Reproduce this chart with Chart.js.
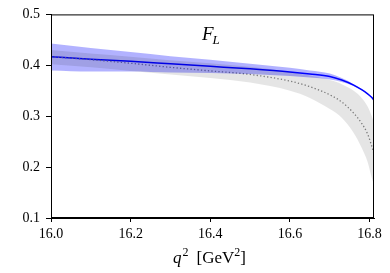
<!DOCTYPE html>
<html>
<head>
<meta charset="utf-8">
<script src="https://cdn.jsdelivr.net/npm/chart.js@4"></script>
<style>
  html, body { margin: 0; padding: 0; background: #fff; }
  #wrap { width: 390px; height: 273px; }
</style>
</head>
<body>
<div id="wrap"><canvas id="fl"></canvas></div>
<script>
// q^2 grid (GeV^2)
const q2 = [16.0, 16.1, 16.2, 16.3, 16.4, 16.5, 16.6, 16.65, 16.7, 16.73, 16.76, 16.78, 16.795, 16.805, 16.811];

// blue prediction: central curve and band
const blueMid = [0.417, 0.412, 0.408, 0.403, 0.398, 0.393, 0.387, 0.383, 0.378, 0.371, 0.361, 0.352, 0.344, 0.337, 0.331];
const blueHi  = [0.443, 0.434, 0.426, 0.418, 0.411, 0.403, 0.395, 0.390, 0.384, 0.375, 0.363, 0.353, 0.344, 0.337, 0.331];
const blueLo  = [0.390, 0.388, 0.388, 0.386, 0.385, 0.383, 0.379, 0.376, 0.372, 0.367, 0.359, 0.351, 0.344, 0.337, 0.331];

// gray prediction: dotted central curve and band
const grayMid = [0.417, 0.411, 0.404, 0.396, 0.389, 0.382, 0.369, 0.358, 0.342, 0.328, 0.306, 0.286, 0.265, 0.242, 0.226];
const grayHi  = [0.430, 0.423, 0.417, 0.410, 0.404, 0.397, 0.387, 0.380, 0.371, 0.363, 0.350, 0.336, 0.319, 0.301, 0.288];
const grayLo  = [0.402, 0.396, 0.389, 0.382, 0.375, 0.366, 0.350, 0.336, 0.314, 0.297, 0.267, 0.238, 0.210, 0.180, 0.165];

// tick labels
const xTicks = [16.0, 16.2, 16.4, 16.6, 16.8];
const yTicks = [0.1, 0.2, 0.3, 0.4, 0.5];

const pts = (ys) => q2.map((x, i) => ({ x: x, y: ys[i] }));

const serif = "'Liberation Serif', 'DejaVu Serif', serif";

// frame around the plot area + axis title + F_L label
const decor = {
  id: 'decor',
  afterDraw(chart) {
    const { ctx, chartArea: a } = chart;
    ctx.save();
    ctx.strokeStyle = '#000';
    ctx.lineWidth = 1;
    ctx.strokeRect(a.left + 0.5, a.top + 0.5, a.right - a.left - 1, a.bottom - a.top - 1);

    ctx.fillStyle = '#000';
    ctx.textBaseline = 'alphabetic';
    // x axis title: q^2 [GeV^2]
    let x = 173, y = 263;
    ctx.font = "italic 17px " + serif;
    ctx.fillText('q', x, y);
    x += ctx.measureText('q').width + 1;
    ctx.font = "12px " + serif;
    ctx.fillText('2', x, y - 7);
    x += ctx.measureText('2').width + 8;
    ctx.font = "17px " + serif;
    ctx.fillText('[GeV', x, y);
    x += ctx.measureText('[GeV').width;
    ctx.font = "12px " + serif;
    ctx.fillText('2', x, y - 7);
    x += ctx.measureText('2').width;
    ctx.font = "17px " + serif;
    ctx.fillText(']', x, y);

    // F_L label
    x = 202; y = 40;
    ctx.font = "italic 19px " + serif;
    ctx.fillText('F', x, y);
    x += ctx.measureText('F').width - 1;
    ctx.font = "italic 13px " + serif;
    ctx.fillText('L', x, y + 4);
    ctx.restore();
  }
};

const ctx = document.getElementById('fl').getContext('2d');
new Chart(ctx, {
  type: 'line',
  data: {
    datasets: [
      { data: pts(grayHi), borderWidth: 0, pointRadius: 0, fill: '+1',
        backgroundColor: 'rgba(0,0,0,0.1)', cubicInterpolationMode: 'monotone' },
      { data: pts(grayLo), borderWidth: 0, pointRadius: 0, fill: false,
        cubicInterpolationMode: 'monotone' },
      { data: pts(blueHi), borderWidth: 0, pointRadius: 0, fill: '+1',
        backgroundColor: 'rgba(0,0,255,0.3)', cubicInterpolationMode: 'monotone' },
      { data: pts(blueLo), borderWidth: 0, pointRadius: 0, fill: false,
        cubicInterpolationMode: 'monotone' },
      { data: pts(grayMid), borderColor: '#888', borderWidth: 1.3, borderDash: [1.3, 2.2],
        pointRadius: 0, fill: false, cubicInterpolationMode: 'monotone' },
      { data: pts(blueMid), borderColor: '#0000ff', borderWidth: 1.5,
        pointRadius: 0, fill: false, cubicInterpolationMode: 'monotone' }
    ]
  },
  options: {
    responsive: true,
    maintainAspectRatio: false,
    animation: false,
    events: [],
    layout: { padding: { left: 0, right: 16, top: 11, bottom: 0 } },
    plugins: { legend: { display: false }, tooltip: { enabled: false } },
    scales: {
      x: {
        type: 'linear',
        min: 16.0,
        max: 16.811,
        afterBuildTicks: (s) => { s.ticks = xTicks.map(v => ({ value: v })); },
        afterFit: (s) => { s.height = 55; },
        grid: { drawOnChartArea: false, drawTicks: true, tickLength: 4, color: '#000' },
        border: { display: true, color: '#000' },
        ticks: { color: '#000', padding: 4, maxRotation: 0,
          font: { family: serif, size: 14 },
          callback: (v) => v.toFixed(1) }
      },
      y: {
        min: 0.1,
        max: 0.5,
        afterBuildTicks: (s) => { s.ticks = yTicks.map(v => ({ value: v })); },
        afterFit: (s) => { s.width = 51; },
        grid: { drawOnChartArea: false, drawTicks: true, tickLength: 5, color: '#000' },
        border: { display: true, color: '#000' },
        ticks: { color: '#000', padding: 6,
          font: { family: serif, size: 14 },
          callback: (v) => v.toFixed(1) }
      }
    }
  },
  plugins: [decor]
});
</script>
</body>
</html>
